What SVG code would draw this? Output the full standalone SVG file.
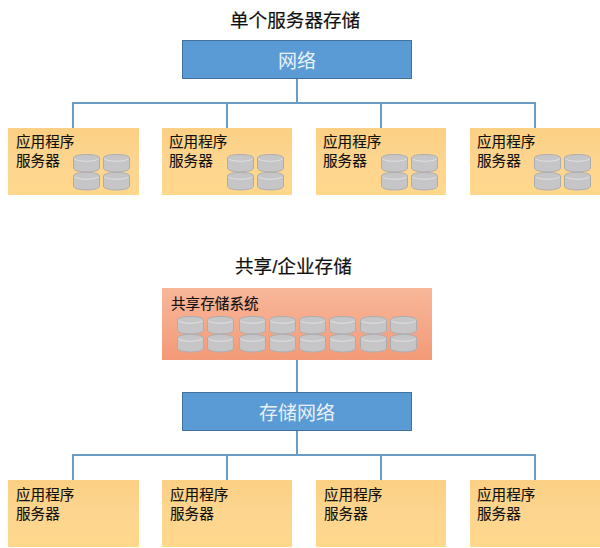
<svg xmlns="http://www.w3.org/2000/svg" xmlns:xlink="http://www.w3.org/1999/xlink" width="600" height="548" viewBox="0 0 600 548">
<style>
text{font-family:"Liberation Sans","Noto Sans CJK SC",sans-serif;fill:#111}
.title{font-size:18.6px;stroke:#111;stroke-width:.2px}
.label{font-size:14.6px;stroke:#111;stroke-width:.15px}
.net{fill:#5b9bd5;stroke:#41719c;stroke-width:1}
.nettext{font-size:19px;fill:#e8f1fa;text-anchor:middle}
.app{fill:url(#appGrad)}
.wire{fill:none;stroke:#6a9cc6;stroke-width:2}
.disk{fill:#c6c6c8;stroke:#adadaf;stroke-width:1}
.rim{fill:none;stroke:#e2e2e2;stroke-width:1}
</style>
<defs>
<linearGradient id="appGrad" x1="0" y1="0" x2="0" y2="1"><stop offset="0" stop-color="#fbd084"/><stop offset="0.5" stop-color="#fdd58f"/><stop offset="1" stop-color="#ffd88c"/></linearGradient>
<linearGradient id="storeGrad" x1="0" y1="0" x2="0" y2="1"><stop offset="0" stop-color="#f8b79a"/><stop offset="1" stop-color="#f39a78"/></linearGradient>
<g id="disk">
<path class="disk" d="M0.500 4C0.500 -0.700 26.500 -0.700 26.500 4V14C26.500 19.300 0.500 19.300 0.500 14Z"/>
<path class="rim" d="M1.500 5C6 8 21 8 25.500 5"/>
</g>
<g id="pair"><use href="#disk" xlink:href="#disk"/><use href="#disk" x="0" y="18" xlink:href="#disk"/></g>
</defs>
<rect width="600" height="548" fill="#fff"/>
<g id="connectors">
<path class="wire" d="M297 78V103M73 128V103H535V128M227 103V128M381 103V128"/>
<path class="wire" d="M297 360V392M297 430V455M73 480V455H535V480M227 455V480M381 455V480"/>
</g>
<text class="title" x="230" y="27">单个服务器存储</text>
<text class="title" x="235" y="273">共享/企业存储</text>
<g id="net1"><rect class="net" x="182.500" y="40.500" width="229" height="38"/><text class="nettext" x="297" y="68">网络</text></g>
<g id="net2"><rect class="net" x="182.500" y="392.500" width="229" height="38"/><text class="nettext" x="297" y="420">存储网络</text></g>
<g id="app1"><rect class="app" x="8" y="128" width="131" height="67"/><text class="label" x="16" y="147">应用程序</text><text class="label" x="16" y="166">服务器</text><use href="#pair" xlink:href="#pair" x="73" y="154"/><use href="#pair" xlink:href="#pair" x="103" y="154"/></g>
<g id="app2"><rect class="app" x="162" y="128" width="130" height="67"/><text class="label" x="169" y="147">应用程序</text><text class="label" x="169" y="166">服务器</text><use href="#pair" xlink:href="#pair" x="227" y="154"/><use href="#pair" xlink:href="#pair" x="257" y="154"/></g>
<g id="app3"><rect class="app" x="316" y="128" width="130" height="67"/><text class="label" x="323" y="147">应用程序</text><text class="label" x="323" y="166">服务器</text><use href="#pair" xlink:href="#pair" x="381" y="154"/><use href="#pair" xlink:href="#pair" x="411" y="154"/></g>
<g id="app4"><rect class="app" x="470" y="128" width="130" height="67"/><text class="label" x="477" y="147">应用程序</text><text class="label" x="477" y="166">服务器</text><use href="#pair" xlink:href="#pair" x="534" y="154"/><use href="#pair" xlink:href="#pair" x="564" y="154"/></g>
<g id="store"><rect x="162" y="288" width="270" height="72" fill="url(#storeGrad)"/><text class="label" x="171" y="309">共享存储系统</text>
<use href="#pair" xlink:href="#pair" x="177" y="316"/><use href="#pair" xlink:href="#pair" x="207" y="316"/><use href="#pair" xlink:href="#pair" x="239" y="316"/><use href="#pair" xlink:href="#pair" x="269" y="316"/><use href="#pair" xlink:href="#pair" x="299" y="316"/><use href="#pair" xlink:href="#pair" x="329" y="316"/><use href="#pair" xlink:href="#pair" x="360" y="316"/><use href="#pair" xlink:href="#pair" x="390" y="316"/></g>
<g id="app5"><rect class="app" x="8" y="480" width="131" height="67"/><text class="label" x="16" y="500">应用程序</text><text class="label" x="16" y="519">服务器</text></g>
<g id="app6"><rect class="app" x="162" y="480" width="130" height="67"/><text class="label" x="170" y="500">应用程序</text><text class="label" x="170" y="519">服务器</text></g>
<g id="app7"><rect class="app" x="316" y="480" width="130" height="67"/><text class="label" x="324" y="500">应用程序</text><text class="label" x="324" y="519">服务器</text></g>
<g id="app8"><rect class="app" x="470" y="480" width="130" height="67"/><text class="label" x="477" y="500">应用程序</text><text class="label" x="477" y="519">服务器</text></g>
</svg>
